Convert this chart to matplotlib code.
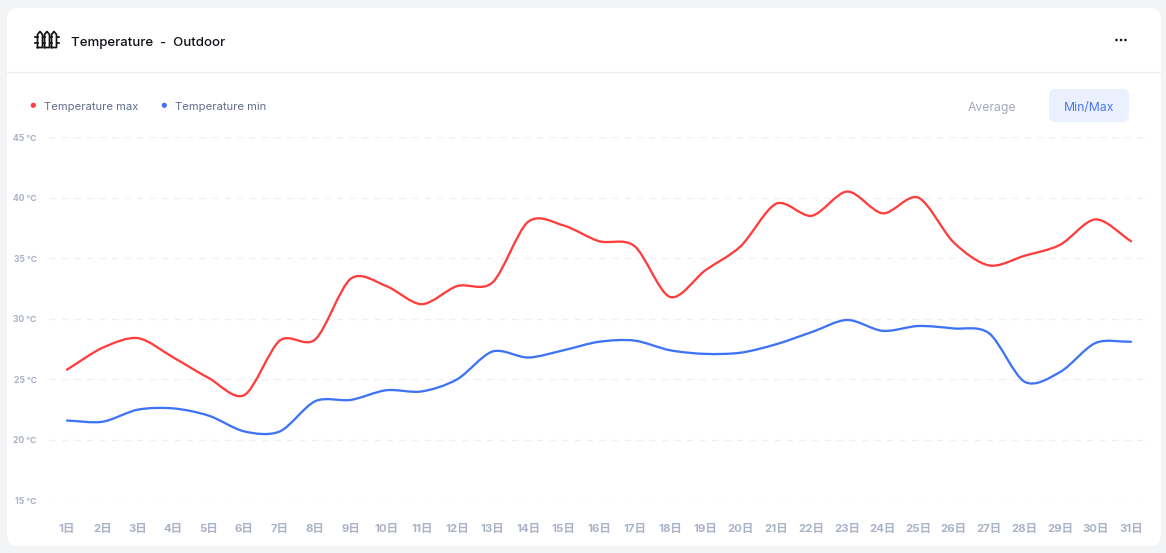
import matplotlib
matplotlib.use("Agg")
import matplotlib.pyplot as plt
from matplotlib.patches import FancyBboxPatch, Circle, PathPatch
from matplotlib.path import Path
import numpy as np

days = list(range(1, 32))
day_labels = [f"{d}日" for d in days]
temp_max = [25.8, 27.6, 28.4, 26.8, 25.1, 23.7, 28.2, 28.3, 33.3, 32.7, 31.2, 32.7, 33.0, 38.0, 37.7, 36.4,
            36.0, 31.8, 34.0, 36.0, 39.5, 38.5, 40.5, 38.7, 40.0, 36.3, 34.4, 35.2, 36.1, 38.2, 36.4]
temp_min = [21.6, 21.5, 22.5, 22.6, 22.0, 20.7, 20.7, 23.2, 23.3, 24.1, 24.0, 25.0, 27.3, 26.8, 27.4, 28.1,
            28.2, 27.4, 27.1, 27.2, 27.9, 28.9, 29.9, 29.0, 29.4, 29.2, 28.8, 24.8, 25.6, 28.0, 28.1]
y_ticks = [15, 20, 25, 30, 35, 40, 45]
y_labels = [f"{v} ℃" for v in y_ticks]

W, H = 1166, 553
RED, BLUE = "#FF3D3D", "#3F73F5"
GREY, TICK = "#646C8C", "#ABB1C7"
CJK = ["Inter", "Noto Sans CJK SC", "DejaVu Sans"]
plt.rcParams["font.family"] = CJK

fig = plt.figure(figsize=(W / 100, H / 100), dpi=100, facecolor="#F3F4F6")

# page layer in pixel coordinates
bg = fig.add_axes([0, 0, 1, 1])
bg.set_xlim(0, W)
bg.set_ylim(H, 0)
bg.axis("off")
bg.add_patch(FancyBboxPatch((7 + 12, 8 + 12), 1154 - 24, 538 - 24, boxstyle="round,pad=12,rounding_size=12",
                            fc="white", ec="none"))
bg.plot([7, 1161], [72, 72], color="#EFF0F3", lw=1)

# fence icon
ic = "#141414"
for x0 in (37.5, 44.5, 51.5):
    bg.plot([x0, x0, x0 + 2.5, x0 + 5, x0 + 5, x0], [47.5, 34.5, 31.5, 34.5, 47.5, 47.5],
            color=ic, lw=1.25, solid_joinstyle="round")
for x0, x1 in ((34.8, 37.5), (42.5, 44.5), (49.5, 51.5), (56.5, 59.2)):
    for y in (36.5, 43):
        bg.plot([x0, x1], [y, y], color=ic, lw=1.25)

bg.text(71, 43, "Temperature  -  Outdoor", fontsize=9.5, color="#101018", va="center", ha="left", fontweight="medium")
for x in (1116.5, 1121, 1125.5):
    bg.add_patch(Circle((x, 40), 1.25, fc="#0A0A14", ec="none"))

# legend
bg.add_patch(Circle((33.3, 105.3), 2.6, fc=RED, ec="none"))
bg.text(44, 106.8, "Temperature max", fontsize=8.1, color=GREY, va="center", ha="left")
bg.add_patch(Circle((164.3, 105.3), 2.6, fc=BLUE, ec="none"))
bg.text(175, 106.8, "Temperature min", fontsize=8.1, color=GREY, va="center", ha="left")

# toggle
bg.text(991.5, 107.5, "Average", fontsize=8.8, color="#A3A9BF", va="center", ha="center")
bg.add_patch(FancyBboxPatch((1049 + 6, 89 + 6), 80 - 12, 33 - 12, boxstyle="round,pad=6,rounding_size=6",
                            fc="#EAF0FD", ec="none"))
bg.text(1089, 107.5, "Min/Max", fontsize=8.8, color="#4A78F0", va="center", ha="center")

# chart axes
L, R, T, B = 49, 1150, 137.0, 500.5
ax = fig.add_axes([L / W, 1 - B / H, (R - L) / W, (B - T) / H])
ax.patch.set_alpha(0)
step = (1131 - 67) / 30
ax.set_xlim(1 + (L - 67) / step, 1 + (R - 67) / step)
ax.set_ylim(15, 45)
for s in ax.spines.values():
    s.set_visible(False)
ax.set_yticks(y_ticks, y_labels, fontsize=6.2, color=TICK, fontweight="bold")
ax.set_xticks(days, day_labels, fontsize=8.2, color=TICK, fontweight="bold")
ax.tick_params(axis="both", length=0)
ax.tick_params(axis="x", pad=17)
ax.tick_params(axis="y", pad=9)
ax.grid(axis="y", color="#EEF0F3", lw=1, dashes=(4.5, 4.5))
ax.set_axisbelow(True)


def smooth(xs, ys, color):
    xs, ys = np.asarray(xs, float), np.asarray(ys, float)
    m = np.gradient(ys)
    verts, codes = [(xs[0], ys[0])], [Path.MOVETO]
    for i in range(len(xs) - 1):
        verts += [(xs[i] + 0.3, ys[i] + 0.3 * m[i]), (xs[i + 1] - 0.3, ys[i + 1] - 0.3 * m[i + 1]), (xs[i + 1], ys[i + 1])]
        codes += [Path.CURVE4] * 3
    ax.add_patch(PathPatch(Path(verts, codes), fc="none", ec=color, lw=1.65, capstyle="round", joinstyle="round"))


smooth(days, temp_max, RED)
smooth(days, temp_min, BLUE)

fig.savefig("out.png", dpi=100, facecolor=fig.get_facecolor())
